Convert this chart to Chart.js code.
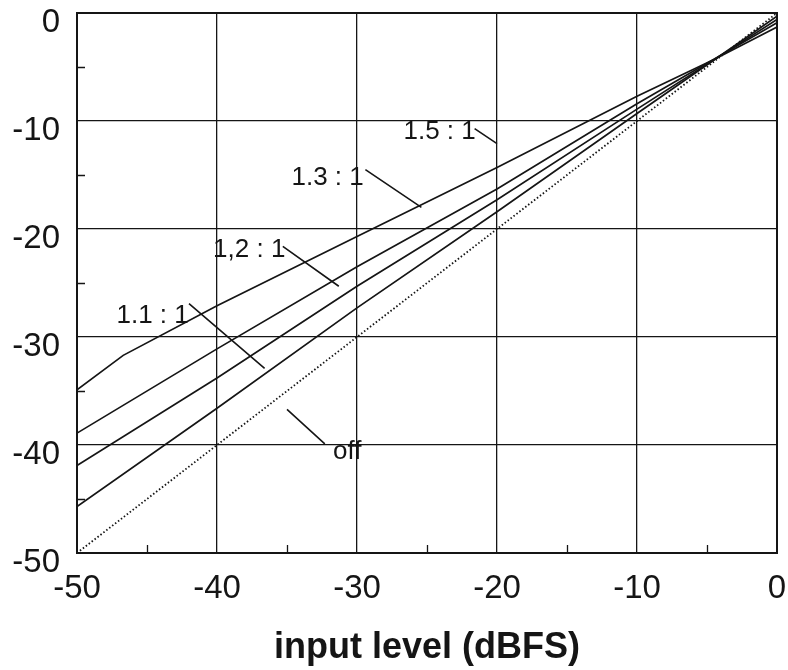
<!DOCTYPE html>
<html>
<head>
<meta charset="utf-8">
<script src="https://cdn.jsdelivr.net/npm/chart.js@4.4.1/dist/chart.umd.min.js"></script>
<style>
    html,
    body {
        margin: 0;
        padding: 0;
        background: #fff;
    }
    #wrap {
        width: 788px;
        height: 670px;
    }
</style>
</head>
<body>
<div id="wrap"><canvas id="compChart"></canvas></div>
<script>
// input level (dBFS) -> output level (dBFS)
const inputLevels = [-50, -40, -30, -20, -10, 0];
const ratio11Out = [-45.7, -36.6, -27.3, -18.4, -9.3, -0.3];
const ratio12Out = [-41.9, -33.8, -25.3, -17.3, -8.9, -0.6];
const ratio13Out = [-38.9, -31.1, -23.5, -16.3, -8.4, -0.9];

// 1.5 : 1 has a small knee near the bottom
const ratio15In = [-50, -46.7, -40, -30, -20, -10, -4.5, 0];
const ratio15Out = [-34.9, -31.7, -27.1, -20.7, -14.3, -7.7, -4.3, -1.3];

const offIn = [-50, 0];
const offOut = [-50, 0];

// axis ticks
const xTickValues = [-50, -40, -30, -20, -10, 0];
const yTickValues = [-50, -40, -30, -20, -10, 0];
const xMinorTicks = [-45, -35, -25, -15, -5];
const yMinorTicks = [-45, -35, -25, -15, -5];

// curve labels and their leader lines (data coordinates)
const curveLabels = ["1.5 : 1", "1.3 : 1", "1,2 : 1", "1.1 : 1", "off"];
const labelAt = [[-24.1, -11.0], [-32.1, -15.3], [-37.7, -21.9], [-44.6, -28.0], [-30.7, -40.6]];
const leaderFrom = [[-21.6, -10.7], [-29.4, -14.5], [-35.3, -21.6], [-42.0, -26.9], [-35.0, -36.7]];
const leaderTo = [[-20.0, -12.1], [-25.4, -18.0], [-31.3, -25.3], [-36.6, -32.9], [-32.3, -39.9]];

const INK = "#151515";
const FONT = "'Liberation Sans', Arial, sans-serif";

function toPoints(xs, ys) {
    return xs.map((x, i) => ({ x: x, y: ys[i] }));
}

function curve(label, xs, ys, dash) {
    return {
        label: label,
        data: toPoints(xs, ys),
        showLine: true,
        borderColor: INK,
        borderWidth: dash ? 1.8 : 1.7,
        borderDash: dash || [],
        pointRadius: 0,
        tension: 0,
    };
}

// frame, minor ticks and curve labels
const decorations = {
    id: "decorations",
    afterDraw(chart) {
        const ctx = chart.ctx;
        const xs = chart.scales.x;
        const ys = chart.scales.y;
        const area = chart.chartArea;

        ctx.save();
        ctx.strokeStyle = INK;
        ctx.lineWidth = 2;
        ctx.strokeRect(area.left, area.top, area.right - area.left, area.bottom - area.top);

        ctx.lineWidth = 1.3;
        ctx.beginPath();
        yMinorTicks.forEach((v) => {
            const py = Math.round(ys.getPixelForValue(v)) + 0.5;
            ctx.moveTo(area.left, py);
            ctx.lineTo(area.left + 8, py);
        });
        xMinorTicks.forEach((v) => {
            const px = Math.round(xs.getPixelForValue(v)) + 0.5;
            ctx.moveTo(px, area.bottom);
            ctx.lineTo(px, area.bottom - 8);
        });
        ctx.stroke();

        ctx.lineWidth = 1.6;
        ctx.beginPath();
        leaderFrom.forEach((p, i) => {
            ctx.moveTo(xs.getPixelForValue(p[0]), ys.getPixelForValue(p[1]));
            ctx.lineTo(xs.getPixelForValue(leaderTo[i][0]), ys.getPixelForValue(leaderTo[i][1]));
        });
        ctx.stroke();

        ctx.fillStyle = INK;
        ctx.font = "26px " + FONT;
        ctx.textAlign = "center";
        ctx.textBaseline = "middle";
        curveLabels.forEach((t, i) => {
            ctx.fillText(t, xs.getPixelForValue(labelAt[i][0]), ys.getPixelForValue(labelAt[i][1]));
        });
        ctx.restore();
    },
};

const ctx = document.getElementById("compChart").getContext("2d");
new Chart(ctx, {
    type: "scatter",
    data: {
        datasets: [
            curve("1.5 : 1", ratio15In, ratio15Out),
            curve("1.3 : 1", inputLevels, ratio13Out),
            curve("1,2 : 1", inputLevels, ratio12Out),
            curve("1.1 : 1", inputLevels, ratio11Out),
            curve("off", offIn, offOut, [1.5, 2.2]),
        ],
    },
    options: {
        responsive: true,
        maintainAspectRatio: false,
        animation: false,
        layout: {
            padding: { top: 13, right: 11, left: 0, bottom: 0 },
        },
        plugins: {
            legend: { display: false },
            tooltip: { enabled: false },
        },
        scales: {
            x: {
                type: "linear",
                min: -50,
                max: 0,
                afterBuildTicks: (scale) => {
                    scale.ticks = xTickValues.map((v) => ({ value: v }));
                },
                afterFit: (scale) => {
                    scale.height = 117;
                    scale.paddingLeft = 0;
                    scale.paddingRight = 0;
                },
                grid: {
                    color: INK,
                    lineWidth: 1.3,
                    drawTicks: false,
                },
                border: { color: INK, width: 2 },
                ticks: {
                    color: INK,
                    padding: 16,
                    maxRotation: 0,
                    font: { family: FONT, size: 33 },
                },
                title: {
                    display: true,
                    text: "input level (dBFS)",
                    color: INK,
                    font: { family: FONT, size: 36, weight: "bold" },
                    padding: { top: 0, bottom: 0 },
                },
            },
            y: {
                type: "linear",
                min: -50,
                max: 0,
                afterBuildTicks: (scale) => {
                    scale.ticks = yTickValues.map((v) => ({ value: v }));
                },
                afterFit: (scale) => {
                    scale.width = 77;
                    scale.paddingTop = 0;
                    scale.paddingBottom = 0;
                },
                grid: {
                    color: INK,
                    lineWidth: 1.3,
                    drawTicks: false,
                },
                border: { color: INK, width: 2 },
                ticks: {
                    color: INK,
                    padding: 17,
                    labelOffset: 10,
                    font: { family: FONT, size: 33 },
                },
            },
        },
    },
    plugins: [decorations],
});
</script>
</body>
</html>
